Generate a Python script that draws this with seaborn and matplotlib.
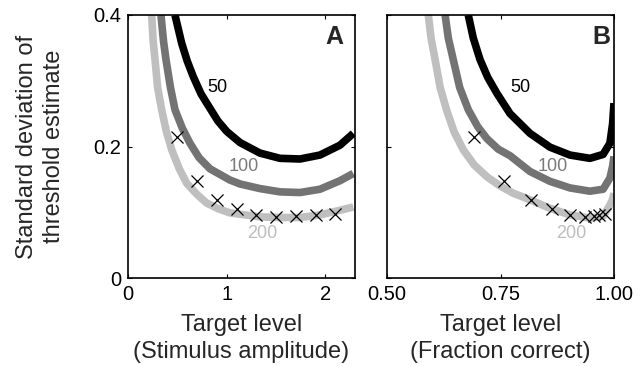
import matplotlib
matplotlib.use("Agg")
import matplotlib.pyplot as plt
import seaborn as sns

sns.set_theme(style="white")
plt.rcParams['font.family'] = ['Liberation Sans', 'DejaVu Sans']

# ---- Panel A data (stimulus amplitude) ----
a50_x = [0.476, 0.544, 0.60, 0.662, 0.74, 0.831, 0.91, 1.0, 1.135, 1.337, 1.54, 1.743, 1.945, 2.148, 2.283]
a50_y = [0.40, 0.357, 0.330, 0.306, 0.280, 0.258, 0.239, 0.223, 0.206, 0.190, 0.182, 0.181, 0.187, 0.202, 0.220]
a100_x = [0.334, 0.36, 0.385, 0.43, 0.476, 0.55, 0.628, 0.72, 0.831, 1.033, 1.135, 1.337, 1.54, 1.743, 1.945, 2.148, 2.283]
a100_y = [0.40, 0.36, 0.332, 0.29, 0.256, 0.228, 0.205, 0.183, 0.166, 0.149, 0.143, 0.136, 0.131, 0.130, 0.135, 0.148, 0.159]
a200_x = [0.24, 0.255, 0.274, 0.30, 0.341, 0.39, 0.443, 0.52, 0.595, 0.70, 0.797, 0.92, 1.033, 1.135, 1.337, 1.54, 1.743, 1.945, 2.148, 2.283]
a200_y = [0.40, 0.36, 0.332, 0.29, 0.256, 0.222, 0.195, 0.166, 0.144, 0.127, 0.114, 0.105, 0.099, 0.097, 0.093, 0.092, 0.092, 0.096, 0.103, 0.108]
a_cross_x = [0.5, 0.7, 0.9, 1.1, 1.3, 1.5, 1.7, 1.9, 2.1]
cross_y = [0.215, 0.148, 0.119, 0.105, 0.096, 0.093, 0.094, 0.096, 0.097]

# ---- Panel B data (fraction correct) ----
b50_x = [0.679, 0.69, 0.705, 0.722, 0.742, 0.771, 0.815, 0.859, 0.903, 0.947, 0.976, 0.991, 0.997, 1.0]
b50_y = [0.40, 0.365, 0.332, 0.305, 0.281, 0.250, 0.220, 0.199, 0.187, 0.182, 0.188, 0.205, 0.235, 0.266]
b100_x = [0.628, 0.635, 0.646, 0.66, 0.679, 0.70, 0.720, 0.745, 0.771, 0.815, 0.859, 0.903, 0.947, 0.976, 0.991, 0.997, 1.0]
b100_y = [0.40, 0.365, 0.332, 0.29, 0.256, 0.230, 0.212, 0.196, 0.186, 0.162, 0.147, 0.137, 0.132, 0.135, 0.152, 0.170, 0.185]
b200_x = [0.591, 0.597, 0.606, 0.617, 0.631, 0.648, 0.668, 0.692, 0.720, 0.749, 0.778, 0.815, 0.859, 0.903, 0.947, 0.976, 0.991, 0.997, 1.0]
b200_y = [0.40, 0.365, 0.332, 0.29, 0.256, 0.222, 0.195, 0.172, 0.154, 0.140, 0.129, 0.119, 0.106, 0.096, 0.091, 0.094, 0.111, 0.120, 0.129]
b_cross_x = [0.692, 0.758, 0.817, 0.864, 0.903, 0.936, 0.957, 0.968, 0.980]

labels_n = ["50", "100", "200"]
line_colors = ["#000000", "#737373", "#bfbfbf"]
text_colors = ["#000000", "#7a7a7a", "#bdbdbd"]

fig = plt.figure(figsize=(6.43, 3.66), dpi=100)
axA = fig.add_axes([128 / 643, 88 / 366, 227 / 643, 263 / 366])
axB = fig.add_axes([387 / 643, 88 / 366, 227 / 643, 263 / 366])

TICK_FS = 14.5
LAB_FS = 17

def draw(ax, curves, cx, label_pos, letter, letter_x):
    for (xs, ys), c in zip(curves, line_colors):
        sns.lineplot(x=xs, y=ys, ax=ax, color=c, lw=5.5, sort=False,
                     solid_capstyle='butt', solid_joinstyle='round', estimator=None)
    sns.scatterplot(x=cx, y=cross_y, ax=ax, marker='x', color='black',
                    s=75, linewidth=0.9, zorder=5)
    for (lx, ly), t, c in zip(label_pos, labels_n, text_colors):
        ax.text(lx, ly, t, color=c, fontsize=13, ha='center', va='center')
    ax.text(letter_x, 0.915, letter, transform=ax.transAxes, fontsize=18,
            fontweight='bold', ha='center', va='center')
    ax.set_ylim(0, 0.4)
    ax.set_yticks([0, 0.2, 0.4])
    ax.tick_params(direction='in', length=3, width=0.8, top=True, right=True,
                   bottom=True, left=True, labelsize=TICK_FS, colors='black', pad=5)
    for s in ax.spines.values():
        s.set_color('black')
        s.set_linewidth(1.2)

draw(axA, [(a50_x, a50_y), (a100_x, a100_y), (a200_x, a200_y)], a_cross_x,
     [(0.91, 0.289), (1.17, 0.169), (1.36, 0.068)], "A", 0.907)
axA.set_xlim(0, 2.3)
axA.set_xticks([0, 1, 2])
axA.set_xticklabels(["0", "1", "2"])
axA.set_yticklabels(["0", "0.2", "0.4"])
axA.set_xlabel("Target level\n(Stimulus amplitude)", fontsize=LAB_FS,
               linespacing=1.3)
axA.set_ylabel("Standard deviation of\nthreshold estimate", fontsize=LAB_FS,
               linespacing=1.3)
axA.xaxis.set_label_coords(0.5, -0.135)
axA.yaxis.set_label_coords(-0.278, 0.5)

draw(axB, [(b50_x, b50_y), (b100_x, b100_y), (b200_x, b200_y)], b_cross_x,
     [(0.793, 0.289), (0.866, 0.169), (0.905, 0.068)], "B", 0.943)
axB.set_xlim(0.5, 1.0)
axB.set_xticks([0.5, 0.75, 1.0])
axB.set_xticklabels(["0.50", "0.75", "1.00"])
axB.set_yticklabels([])
axB.set_xlabel("Target level\n(Fraction correct)", fontsize=LAB_FS,
               linespacing=1.3)
axB.xaxis.set_label_coords(0.5, -0.135)
axB.set_ylabel("")

fig.savefig("out.png", dpi=100)
